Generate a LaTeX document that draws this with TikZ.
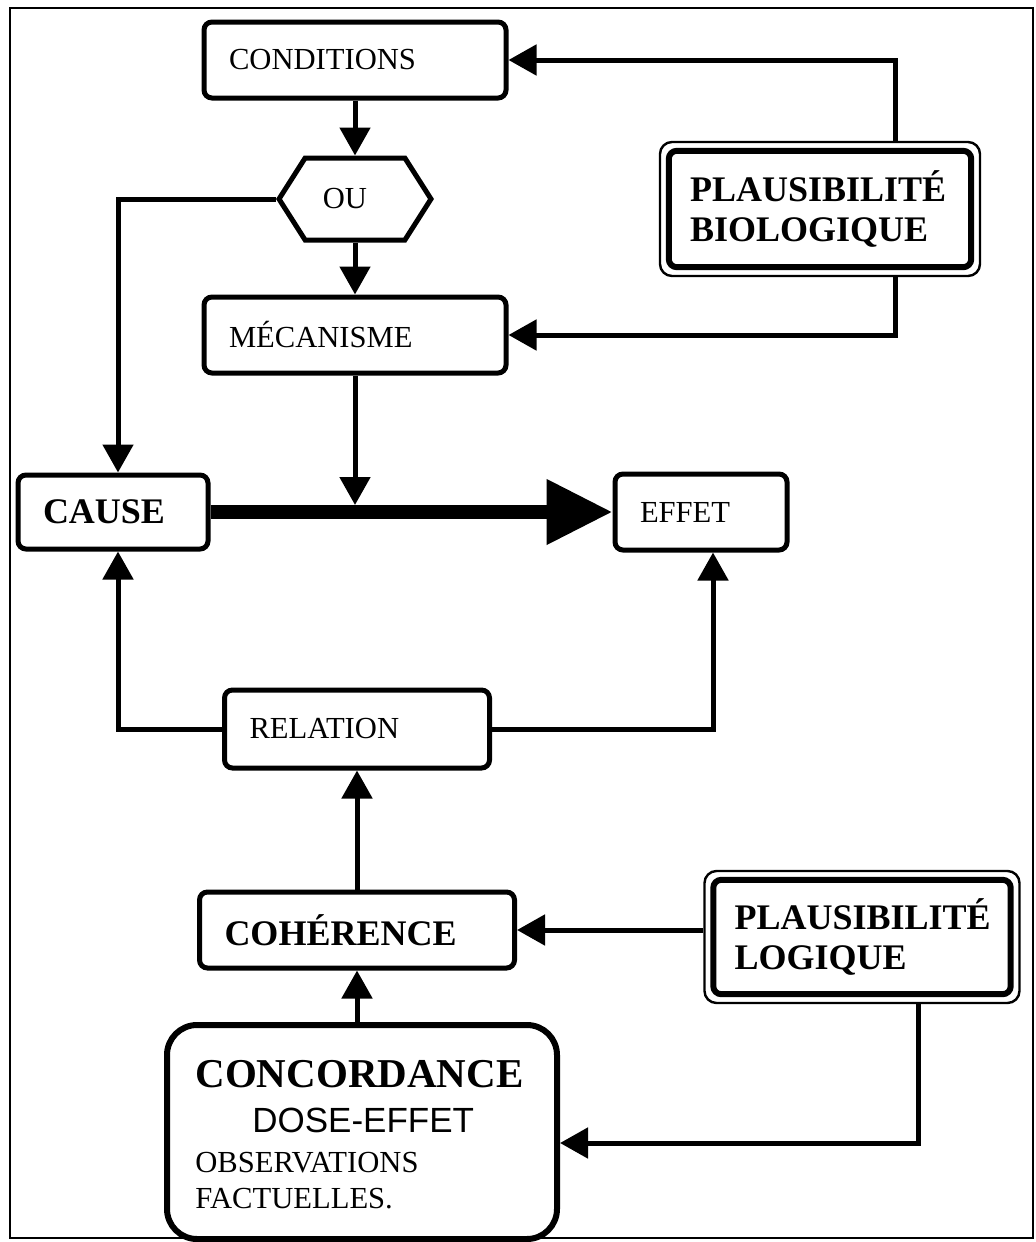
\documentclass[tikz,border=0pt]{standalone}
\usepackage{fontspec}
\setmainfont{Liberation Serif}
\setsansfont{Liberation Sans}
\usetikzlibrary{arrows.meta,shapes.symbols,calc}
\begin{document}
\begin{tikzpicture}[x=0.5pt,y=-0.5pt,
  box/.style={draw,line width=2.5pt,rounded corners=4pt,fill=white,inner xsep=12.5pt,inner ysep=0pt,align=left},
  reg/.style={font=\fontsize{15.3}{18}\selectfont},
  bld/.style={font=\fontsize{18}{20}\selectfont\bfseries},
  conn/.style={line width=2.5pt,-{Triangle[length=14pt,width=15pt]}},
  dbl/.style={draw,line width=1.2pt,rounded corners=6pt,fill=white,inner xsep=15pt,align=left,font=\fontsize{18}{20}\selectfont\bfseries},
  txt/.style={anchor=base west,inner sep=0pt}]
\useasboundingbox (0,0) rectangle (1035,1242);
\draw[line width=1.2pt] (10,8) rectangle (1033,1238);

% nodes
\node[box,reg,text width=126pt,minimum height=38pt] (cond) at (355,60) {CONDITIONS};
\node[signal,signal to=east and west,signal pointer angle=115,draw,line width=2.5pt,fill=white,
      minimum width=76pt,minimum height=41pt,inner sep=0pt,reg] (ou) at (355,199) {OU\hspace*{10pt}};
\node[box,reg,text width=126pt,minimum height=38pt] (mec) at (355,335) {MÉCANISME};
\node[box,bld,text width=70pt,minimum height=37pt] (cause) at (113,512) {CAUSE};
\node[box,reg,text width=61pt,minimum height=38pt] (effet) at (701,512) {EFFET};
\node[box,reg,text width=107.5pt,minimum height=39pt] (rel) at (357,729) {RELATION};
\node[box,bld,text width=132.5pt,minimum height=38pt] (coh) at (357,930) {COHÉRENCE};

\node[dbl,text width=130pt,minimum height=67pt] (pb) at (820,209) {PLAUSIBILITÉ\\BIOLOGIQUE};
\draw[line width=3pt,rounded corners=4pt] ([shift={(5pt,-5pt)}]pb.north west) rectangle ([shift={(-5pt,5pt)}]pb.south east);
\node[dbl,text width=127.5pt,minimum height=66pt] (pl) at (862,937) {PLAUSIBILITÉ\\LOGIQUE};
\draw[line width=3pt,rounded corners=4pt] ([shift={(5pt,-5pt)}]pl.north west) rectangle ([shift={(-5pt,5pt)}]pl.south east);

\node[draw,line width=3pt,rounded corners=15pt,fill=white,minimum width=195pt,minimum height=107pt] (conc) at (362,1132) {};
\node[txt,font=\fontsize{20.5}{24}\selectfont\bfseries] (t1) at (195,1087) {CONCORDANCE};
\node[txt,font=\fontsize{17.5}{20}\selectfont\sffamily] (t2) at (252,1132) {DOSE-EFFET};
\node[txt,reg] (t3) at (195,1172) {OBSERVATIONS};
\node[txt,reg] (t4) at (195,1208) {FACTUELLES.};

% connectors
\draw[conn] (cond.south) -- (ou.north);
\draw[conn] (ou.south) -- (mec.north);
\draw[conn] (ou.west) -| ([xshift=2.5pt]cause.north);
\draw[conn] ([xshift=118.5pt]pb.north west) |- (cond.east);
\draw[conn] ([xshift=118.5pt]pb.south west) |- (mec.east);
\draw[conn] (mec.south) -- ($(mec.south |- cause.east)+(0,-7)$);
\draw[line width=7pt,-{Triangle[length=33pt,width=31pt]}] (cause.east) -- (effet.west);
\draw[conn] (rel.west) -| ([xshift=2.5pt]cause.south);
\draw[conn] (rel.east) -| ([xshift=6pt]effet.south);
\draw[conn] (coh.north) -- (rel.south);
\draw[conn] (conc.north -| coh.south) -- (coh.south);
\draw[conn] (pl.west |- coh.east) -- (coh.east);
\draw[conn] ([xshift=107.5pt]pl.south west) |- ([yshift=-5.5pt]conc.east);
\end{tikzpicture}
\end{document}
